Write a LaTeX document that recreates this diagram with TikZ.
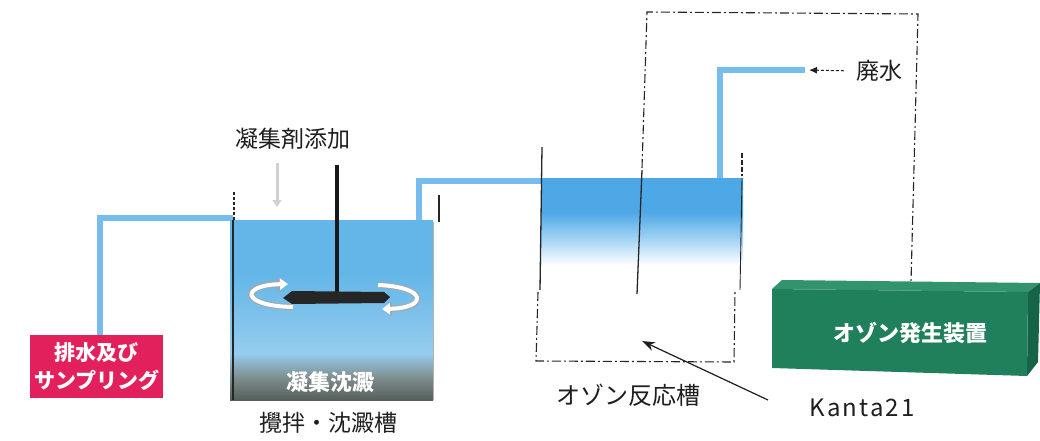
\documentclass[tikz,border=0pt]{standalone}
\usepackage{fontspec}
\newfontfamily\jp{Noto Sans CJK JP}
\newfontfamily\kfont[LetterSpace=9.0]{Noto Sans CJK JP}
\usetikzlibrary{arrows.meta}

\definecolor{ink}{RGB}{30,30,30}
\definecolor{pipeblue}{RGB}{118,188,236}
\definecolor{tanktop}{RGB}{100,182,232}
\definecolor{tankmid}{RGB}{150,205,238}
\definecolor{sludgelight}{RGB}{125,140,140}
\definecolor{sludge}{RGB}{85,95,90}
\definecolor{ozonetop}{RGB}{78,168,230}
\definecolor{ozonemid}{RGB}{150,206,242}
\definecolor{samplered}{RGB}{226,32,92}
\definecolor{genfront}{RGB}{32,128,92}
\definecolor{gentop}{RGB}{50,148,108}
\definecolor{genside}{RGB}{22,100,72}

% settling tank: blue water over a grey sludge layer
\pgfdeclareverticalshading{settling}{100bp}{color(0bp)=(sludge); color(25bp)=(sludge);
  color(31bp)=(sludgelight); color(38bp)=(tankmid); color(60bp)=(tanktop);
  color(75bp)=(tanktop); color(100bp)=(tanktop)}
% ozone reactor: blue at the surface fading to white
\pgfdeclareverticalshading{reactor}{100bp}{color(0bp)=(white); color(25bp)=(white);
  color(37bp)=(white); color(50bp)=(ozonemid); color(60bp)=(ozonetop);
  color(100bp)=(ozonetop)}

\begin{document}
\begin{tikzpicture}[x=1pt,y=-1pt,
  pipe/.style={line width=5.5pt, draw=pipeblue, line join=miter},
  wall/.style={line width=1.3pt, draw=black!85},
  bound/.style={line width=1.1pt, draw=black!85, dash pattern=on 9pt off 3pt on 2pt off 3pt},
  lbl/.style={font=\jp\fontsize{23}{26}\selectfont, text=ink, inner sep=0pt},
  boldwhite/.style={font=\jp\bfseries\fontsize{21}{28}\selectfont, text=white, inner sep=0pt, align=center},
  spin/.style={line width=4pt, draw=white, -{Triangle[width=11pt,length=8pt]}},
  spinedge/.style={line width=6pt, draw=black!35, -{Triangle[width=14pt,length=10pt]}}]
\useasboundingbox (0,0) rectangle (1040,441);
\fill[white] (0,0) rectangle (1040,441);

% named points
\coordinate (t1in) at (233,218);
\coordinate (t1out) at (419,222);
\coordinate (t2in) at (542,181);
\coordinate (t2out) at (720,180);
\coordinate (pipeend) at (805,70);
\coordinate (gentopc) at (911,282);
\coordinate (reactorpt) at (642,341);
\coordinate (ktail) at (768,400);

% sampling box
\node[fill=samplered, minimum width=133pt, minimum height=63pt, anchor=north west, inner sep=0pt] (sample) at (30,335) {};
\node[boldwhite] at (sample.center) {排水及び\\サンプリング};

% pipes
\draw[pipe] (sample.north -| 100,0) -- (100,218) -- (t1in);
\draw[pipe] (t1out) -- (419,181) -- (t2in);
\draw[pipe] (t2out) -- (720,70) -- (pipeend);

% settling tank
\shade[shading=settling] (230,220) rectangle (433,400);
\draw[wall] (233,220) -- (233,400);
\draw[wall, dash pattern=on 3pt off 2pt] (234,192) -- (234,220);
\draw[wall] (439,195) -- (439,222);
\draw[black!30, line width=0.8pt] (433,222) -- (433,400);
\node[font=\jp\bfseries\fontsize{22}{24}\selectfont, text=white, inner sep=0pt] (sludgelbl) at (330,382) {凝集沈澱};

% coagulant dosing arrow
\draw[black!18, line width=3pt, -{Triangle[width=9pt,length=7pt]}] (277,163) -- (277,207);

% stirrer
\draw[spinedge] (293,307) .. controls (240,306) and (240,285) .. (288,284);
\draw[spinedge] (378,285) .. controls (428,287) and (428,308) .. (382,309);
\draw[spin] (293,307) .. controls (240,306) and (240,285) .. (288,284);
\draw[spin] (378,285) .. controls (428,287) and (428,308) .. (382,309);
\draw[line width=3.5pt, black!90] (337,165) -- (337,294);
\fill[black!85] (283,298) -- (292,291) -- (384,292) -- (390,297) -- (384,303) -- (292,304) -- cycle;

% ozone reactor
\shade[shading=reactor] (541,178) rectangle (743,293);
\draw[wall] (542,147) -- (540,290);
\draw[wall] (642,170) -- (637,294);
\draw[wall, dash pattern=on 5pt off 2pt] (742,153) -- (742,176);
\draw[wall, line width=0.9pt] (742,178) -- (740,290);

% system boundary
\draw[bound] (538,292) -- (536,361) -- (734,362) -- (735,292);
\draw[bound] (642,168) -- (647,12) -- (918,14) -- (gentopc);

% ozone generator
\fill[gentop] (772,289) -- (782,280) -- (1040,283) -- (1028,292) -- cycle;
\fill[genside] (1028,292) -- (1040,283) -- (1038,362) -- (1027,376) -- cycle;
\fill[genfront] (772,289) -- (1028,292) -- (1027,376) -- (772,368) -- cycle;
\node[boldwhite, font=\jp\bfseries\fontsize{22}{24}\selectfont] (gen) at (910,333) {オゾン発生装置};

% labels
\node[lbl] (coag) at (293,139) {凝集剤添加};
\node[lbl] (settle) at (328,423) {攪拌・沈澱槽};
\node[lbl, font=\jp\fontsize{24}{26}\selectfont] (reactor) at (628,395) {オゾン反応槽};
\node[lbl] (waste) at (879,71) {廃水};
\node[font=\kfont\fontsize{24}{26}\selectfont, text=ink, inner sep=0pt] (kanta) at (862,408) {Kanta21};

% connectors
\draw[ink, densely dashed, line width=1pt, -{Latex[length=8pt,width=7pt]}, shorten <=12pt, shorten >=4pt] (waste.west) -- (pipeend);
\draw[ink, line width=1.2pt, -{Stealth[length=13pt,width=9pt]}] (ktail) -- (reactorpt);
\end{tikzpicture}
\end{document}
